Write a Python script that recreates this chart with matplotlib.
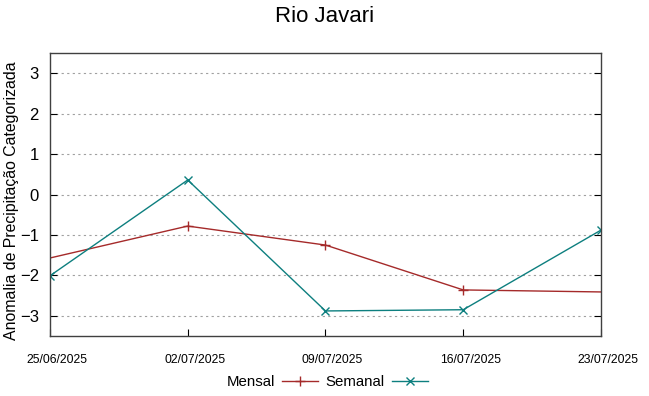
import matplotlib.pyplot as plt
import matplotlib.dates as mdates
import matplotlib.transforms as mtransforms
import numpy as np
import pandas as pd

plt.rcParams["font.family"] = ["Liberation Sans", "DejaVu Sans"]

TITLE = "Rio Javari"
YLABEL = "Anomalia de Precipitação Categorizada"

dates = pd.to_datetime(["2025-06-25", "2025-07-02", "2025-07-09",
                        "2025-07-16", "2025-07-23"])
mensal = [-1.57, -0.78, -1.25, -2.36, -2.41]
semanal = [-2.01, 0.36, -2.88, -2.85, -0.88]
yticks = [-3, -2, -1, 0, 1, 2, 3]

fig = plt.figure(figsize=(6.49, 3.96), dpi=100)
ax = fig.add_axes([0.077, 0.1515, 0.849, 0.7145])

ax.plot(dates, mensal, color="#a52a2a", lw=1.0, marker="+", ms=7,
        mew=1.0, markevery=[1, 2, 3], label="Mensal")
ax.plot(dates, semanal, color="#0d7f7f", lw=1.0, marker="x", ms=6,
        mew=1.0, label="Semanal")

ax.set_xlim(dates[0], dates[-1])
ax.set_ylim(-3.5, 3.5)
ax.set_yticks(yticks)
ax.set_xticks(dates)
ax.xaxis.set_major_formatter(mdates.DateFormatter("%d/%m/%Y"))

ax.grid(axis="y", color="#a0a0a0", linestyle=(0, (2, 3)), lw=0.8)
ax.tick_params(axis="y", direction="in", length=5, right=True,
               labelsize=12, pad=8, color="black")
ax.tick_params(axis="x", direction="in", length=5, labelsize=8.8,
               pad=13, color="black")
# gnuplot-style date labels sit slightly right of their ticks
shift = mtransforms.ScaledTranslation(7 / 100, 0, fig.dpi_scale_trans)
for lbl in ax.get_xticklabels():
    lbl.set_transform(lbl.get_transform() + shift)

for sp in ax.spines.values():
    sp.set_color("#404040")
    sp.set_linewidth(1.0)

ax.set_ylabel(YLABEL, fontsize=11.4)
ax.yaxis.set_label_coords(-0.056, 0.477)
fig.suptitle(TITLE, fontsize=16, y=0.985)

fig.legend(loc="center", bbox_to_anchor=(0.504, 0.035), ncol=2,
           frameon=False, markerfirst=False, fontsize=10.8,
           handlelength=2.4, columnspacing=0.55, handletextpad=0.46)

fig.savefig("out.png", dpi=100)
